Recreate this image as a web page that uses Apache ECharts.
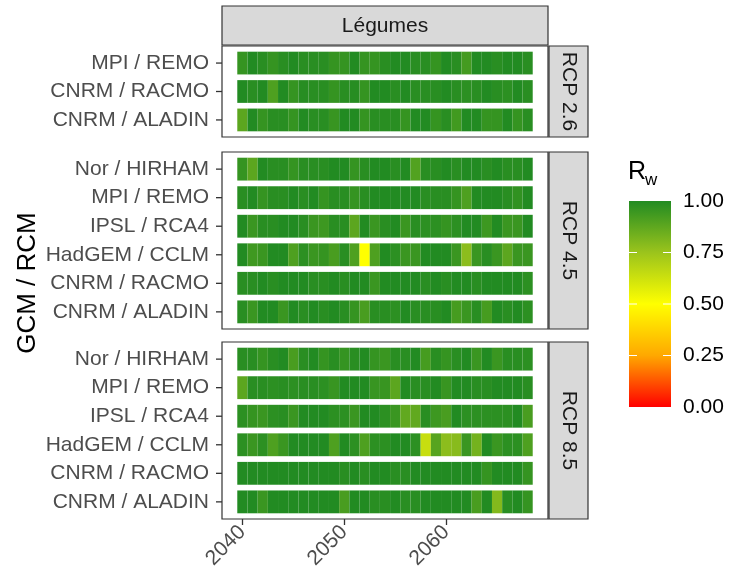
<!DOCTYPE html>
<html>
<head>
<meta charset="utf-8">
<script src="https://cdn.jsdelivr.net/npm/echarts@6/dist/echarts.min.js"></script>
<style>
  html, body { margin: 0; padding: 0; background: #fff; }
  #chart { width: 729px; height: 578px; }
</style>
</head>
<body>
<div id="chart"></div>
<script>
    // x axis slots, 2038..2070 (first and last only pad the panel)
    var axisYears = ['2038', '2039', '2040', '2041', '2042', '2043', '2044', '2045', '2046', '2047',
                     '2048', '2049', '2050', '2051', '2052', '2053', '2054', '2055', '2056', '2057',
                     '2058', '2059', '2060', '2061', '2062', '2063', '2064', '2065', '2066', '2067',
                     '2068', '2069', '2070'];
    var years = [2040, 2041, 2042, 2043, 2044, 2045, 2046, 2047, 2048, 2049,
                 2050, 2051, 2052, 2053, 2054, 2055, 2056, 2057, 2058, 2059,
                 2060, 2061, 2062, 2063, 2064, 2065, 2066, 2067, 2068];
    var xTicks = [2040, 2050, 2060];
    var legendTicks = [1.00, 0.75, 0.50, 0.25, 0.00];

    // rows listed top to bottom, as in the picture
    var rows26 = ['MPI / REMO', 'CNRM / RACMO', 'CNRM / ALADIN'];
    var rows45 = ['Nor / HIRHAM', 'MPI / REMO', 'IPSL / RCA4', 'HadGEM / CCLM', 'CNRM / RACMO', 'CNRM / ALADIN'];
    var rows85 = ['Nor / HIRHAM', 'MPI / REMO', 'IPSL / RCA4', 'HadGEM / CCLM', 'CNRM / RACMO', 'CNRM / ALADIN'];

    // RCP 2.6
    var r26_mpi   = [0.96,1.00,0.985,0.96,0.985,1.00,0.985,0.985,0.985,0.96,0.96,1.00,0.96,0.96,0.985,1.00,1.00,0.985,0.985,0.96,1.00,0.985,0.93,1.00,1.00,0.985,1.00,1.00,0.985];
    var r26_racmo = [1.00,0.985,1.00,0.91,1.00,0.96,0.99,0.985,0.985,0.96,0.985,0.99,0.96,1.00,1.00,0.985,1.00,0.985,0.985,0.985,1.00,0.985,0.98,0.985,1.00,0.985,0.98,1.00,0.985];
    var r26_aladin= [0.88,1.00,0.96,0.985,0.985,0.96,1.00,0.985,0.985,0.955,1.00,1.00,0.96,0.985,0.985,0.985,0.96,1.00,1.00,0.96,0.985,0.935,1.00,1.00,0.96,0.96,1.00,0.96,0.985];

    // RCP 4.5
    var r45_nor   = [0.96,0.88,1.00,0.985,0.985,0.96,0.985,0.985,0.985,1.00,1.00,0.96,0.985,1.00,1.00,0.985,1.00,0.90,0.985,0.985,1.00,0.985,1.00,1.00,0.985,1.00,0.985,0.985,1.00];
    var r45_mpi   = [0.985,1.00,0.96,0.985,0.985,1.00,0.985,1.00,0.96,0.985,0.985,0.96,0.985,1.00,1.00,1.00,1.00,1.00,0.985,0.985,0.985,0.96,0.91,1.00,1.00,1.00,0.985,0.97,1.00];
    var r45_ipsl  = [1.00,0.95,0.985,0.985,1.00,1.00,0.985,0.95,0.945,0.985,0.985,0.88,1.00,0.95,0.985,1.00,0.95,0.985,0.98,0.98,0.96,0.98,1.00,1.00,0.945,1.00,0.95,0.95,1.00];
    var r45_had   = [1.00,0.94,0.95,1.00,1.00,0.91,0.98,0.95,0.96,0.92,0.985,0.91,0.50,0.91,1.00,0.98,0.95,0.95,1.00,1.00,1.00,0.95,0.78,0.95,0.985,0.95,0.88,0.95,0.95];
    var r45_racmo = [0.985,0.985,1.00,0.985,1.00,1.00,1.00,0.985,0.985,1.00,0.985,1.00,1.00,0.95,1.00,1.00,1.00,1.00,0.985,1.00,0.985,1.00,1.00,0.985,1.00,1.00,1.00,1.00,0.98];
    var r45_aladin= [0.985,0.95,1.00,1.00,0.95,1.00,0.985,1.00,0.985,1.00,0.985,0.96,0.92,0.985,0.985,0.98,1.00,0.985,0.985,0.985,1.00,0.925,0.95,0.985,0.925,1.00,0.985,1.00,0.98];

    // RCP 8.5
    var r85_nor   = [0.985,0.985,0.96,0.985,1.00,0.92,0.985,1.00,0.96,0.985,0.96,0.985,1.00,0.96,0.95,0.985,0.985,1.00,0.925,0.985,0.96,0.985,1.00,0.95,1.00,0.95,0.985,0.985,0.98];
    var r85_mpi   = [0.88,0.985,0.985,0.98,0.985,0.98,0.985,0.985,0.98,0.955,1.00,1.00,1.00,0.955,0.955,0.88,1.00,0.985,0.985,1.00,0.955,1.00,1.00,0.985,0.985,1.00,1.00,1.00,0.985];
    var r85_ipsl  = [0.98,0.96,0.95,0.98,0.985,0.95,1.00,1.00,1.00,0.98,0.98,0.95,1.00,1.00,0.98,0.95,0.87,0.87,0.985,0.945,0.92,1.00,0.98,0.98,0.98,0.98,0.98,1.00,0.92];
    var r85_had   = [0.98,0.95,0.98,0.91,0.95,1.00,1.00,1.00,1.00,0.91,1.00,0.98,0.91,0.98,0.98,1.00,1.00,0.98,0.64,0.89,0.78,0.79,0.95,0.83,1.00,0.95,0.98,0.98,0.91];
    var r85_racmo = [1.00,1.00,1.00,1.00,1.00,1.00,1.00,1.00,1.00,1.00,0.985,1.00,0.985,1.00,1.00,0.985,0.985,1.00,1.00,1.00,1.00,1.00,1.00,1.00,0.96,1.00,1.00,1.00,0.96];
    var r85_aladin= [1.00,1.00,0.95,1.00,1.00,1.00,1.00,1.00,1.00,1.00,0.92,1.00,1.00,0.985,0.985,1.00,0.985,0.985,1.00,1.00,1.00,1.00,1.00,0.92,1.00,0.80,0.985,1.00,0.96];

    var panels = [
        { strip: 'RCP 2.6', rows: rows26, values: [r26_mpi, r26_racmo, r26_aladin], top: 46, height: 91 },
        { strip: 'RCP 4.5', rows: rows45, values: [r45_nor, r45_mpi, r45_ipsl, r45_had, r45_racmo, r45_aladin], top: 152, height: 177 },
        { strip: 'RCP 8.5', rows: rows85, values: [r85_nor, r85_mpi, r85_ipsl, r85_had, r85_racmo, r85_aladin], top: 342, height: 177 }
    ];

    var FONT = "'Liberation Sans', Arial, sans-serif";
    var panelLeft = 222, panelWidth = 326;
    var colors = ['#FF0000', '#FFA800', '#FFFF00', '#9BC41C', '#228B22'];

    function renderTile(params, api) {
        var c = api.coord([api.value(0), api.value(1)]);
        var s = api.size([1, 1]);
        return {
            type: 'rect',
            shape: { x: c[0] - s[0] / 2, y: c[1] - 0.4 * s[1], width: s[0], height: 0.8 * s[1] },
            style: { fill: api.visual('color') }
        };
    }

    function isTickYear(index, value) {
        return xTicks.indexOf(Number(value)) >= 0;
    }

    var grids = [], xAxes = [], yAxes = [], series = [], graphics = [];

    panels.forEach(function (p, k) {
        var n = p.rows.length;
        var isBottom = k === panels.length - 1;
        var unit = p.height / (n + 0.2);
        grids.push({ left: panelLeft, top: p.top + 0.1 * unit, width: panelWidth, height: n * unit });
        xAxes.push({
            type: 'category', gridIndex: k, data: axisYears, boundaryGap: false,
            offset: 0.1 * unit,
            axisLine: { show: false }, splitLine: { show: false },
            axisTick: { show: isBottom, interval: isTickYear, length: 6, lineStyle: { color: '#333333', width: 1.3 } },
            axisLabel: {
                show: isBottom, interval: isTickYear, rotate: 45, margin: 10,
                fontSize: 21, color: '#4D4D4D', fontFamily: FONT
            }
        });
        yAxes.push({
            type: 'category', gridIndex: k, data: p.rows.slice().reverse(),
            axisLine: { show: false }, splitLine: { show: false },
            axisTick: { show: false },
            axisLabel: { margin: 13, interval: 0, fontSize: 21, color: '#4D4D4D', fontFamily: FONT }
        });
        var data = [];
        p.values.forEach(function (vals, r) {
            vals.forEach(function (v, j) { data.push([String(years[j]), p.rows[r], v]); });
        });
        series.push({
            type: 'custom', xAxisIndex: k, yAxisIndex: k,
            renderItem: renderTile, encode: { x: 0, y: 1 }, data: data
        });
        // panel frame
        graphics.push({
            type: 'rect', shape: { x: panelLeft, y: p.top, width: panelWidth, height: p.height },
            style: { fill: null, stroke: '#333333', lineWidth: 1.2 }
        });
        // right strip
        graphics.push({
            type: 'rect', shape: { x: 549, y: p.top, width: 39, height: p.height },
            style: { fill: '#D9D9D9', stroke: '#333333', lineWidth: 1.2 }
        });
        graphics.push({
            type: 'text', x: 568.5, y: p.top + p.height / 2, rotation: -Math.PI / 2,
            style: { text: p.strip, fontSize: 21, fill: '#1A1A1A', fontFamily: FONT, align: 'center', verticalAlign: 'middle' }
        });
    });

    // top strip
    graphics.push({
        type: 'rect', shape: { x: panelLeft, y: 6, width: panelWidth, height: 39 },
        style: { fill: '#D9D9D9', stroke: '#333333', lineWidth: 1.2 }
    });
    graphics.push({
        type: 'text', x: panelLeft + panelWidth / 2, y: 26,
        style: { text: 'Légumes', fontSize: 21, fill: '#1A1A1A', fontFamily: FONT, align: 'center', verticalAlign: 'middle' }
    });
    // y axis title
    graphics.push({
        type: 'text', x: 28, y: 283, rotation: Math.PI / 2,
        style: { text: 'GCM / RCM', fontSize: 26, fill: '#000', fontFamily: FONT, align: 'center', verticalAlign: 'middle' }
    });

    // colour bar legend
    var barX = 629, barY = 201, barW = 42, barH = 206;
    graphics.push({
        type: 'rect', shape: { x: barX, y: barY, width: barW, height: barH },
        style: {
            fill: new echarts.graphic.LinearGradient(0, 0, 0, 1, [
                { offset: 0, color: colors[4] }, { offset: 0.25, color: colors[3] },
                { offset: 0.5, color: colors[2] }, { offset: 0.75, color: colors[1] },
                { offset: 1, color: colors[0] }
            ])
        }
    });
    legendTicks.forEach(function (v) {
        var ty = barY + (1 - v) * barH;
        if (v > 0 && v < 1) {
            graphics.push({ type: 'line', shape: { x1: barX, y1: ty, x2: barX + 8, y2: ty }, style: { stroke: '#fff', lineWidth: 1 } });
            graphics.push({ type: 'line', shape: { x1: barX + barW - 8, y1: ty, x2: barX + barW, y2: ty }, style: { stroke: '#fff', lineWidth: 1 } });
        }
        graphics.push({
            type: 'text', x: 683, y: ty,
            style: { text: v.toFixed(2), fontSize: 21, fill: '#000', fontFamily: FONT, align: 'left', verticalAlign: 'middle' }
        });
    });
    graphics.push({
        type: 'text', x: 628, y: 172,
        style: { text: 'R', fontSize: 25, fill: '#000', fontFamily: FONT, align: 'left', verticalAlign: 'middle' }
    });
    graphics.push({
        type: 'text', x: 645, y: 180,
        style: { text: 'w', fontSize: 17, fill: '#000', fontFamily: FONT, align: 'left', verticalAlign: 'middle' }
    });

    var option = {
        animation: false,
        backgroundColor: '#fff',
        grid: grids,
        xAxis: xAxes,
        yAxis: yAxes,
        visualMap: {
            type: 'continuous', show: false, min: 0, max: 1, dimension: 2,
            seriesIndex: [0, 1, 2],
            inRange: { color: colors }
        },
        series: series,
        graphic: graphics
    };

    var myChart = echarts.init(document.getElementById('chart'));
    myChart.setOption(option);

    // y ticks, placed through each panel's own y scale
    panels.forEach(function (p, k) {
        p.rows.forEach(function (name) {
            var py = myChart.convertToPixel({ yAxisIndex: k }, name);
            graphics.push({
                type: 'line', shape: { x1: panelLeft - 6, y1: py, x2: panelLeft, y2: py },
                style: { stroke: '#333333', lineWidth: 1.3 }
            });
        });
    });
    myChart.setOption({ graphic: graphics });
</script>
</body>
</html>
